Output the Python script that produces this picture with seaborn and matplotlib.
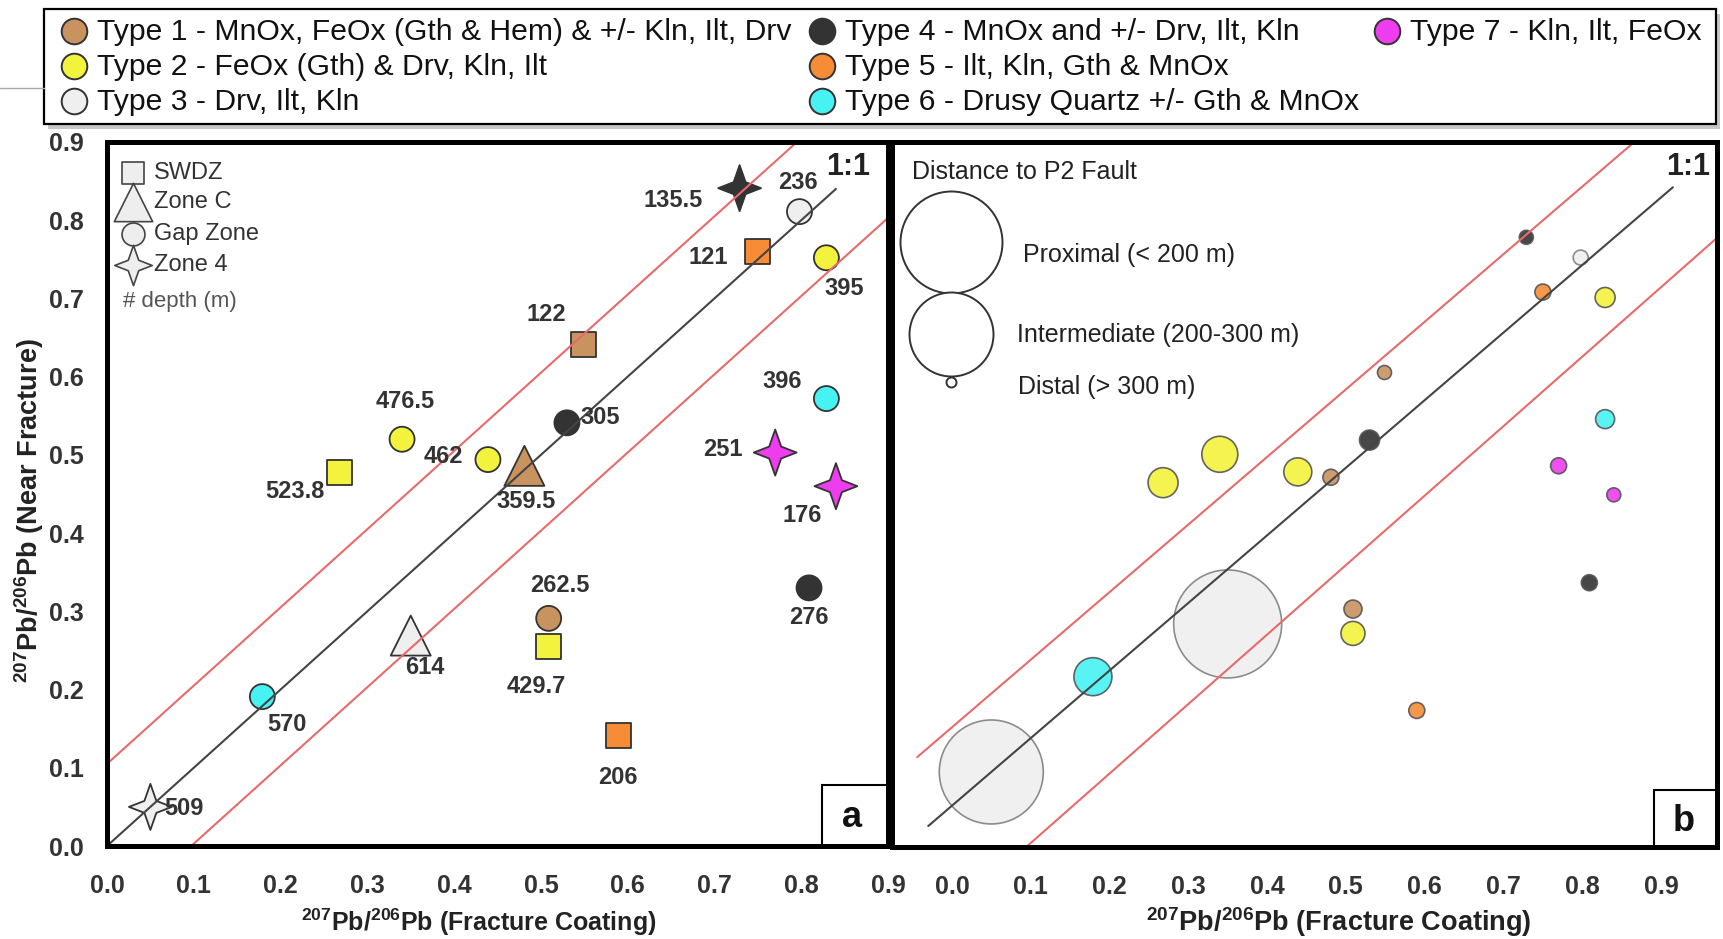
import numpy as np
import pandas as pd
import matplotlib
matplotlib.use("Agg")
import matplotlib.pyplot as plt
from matplotlib.path import Path
from matplotlib.patches import Rectangle
import seaborn as sns

# ---------------- data ----------------
depth_labels = ['135.5', '236', '121', '395', '122', '305', '396', '251', '176',
                '476.5', '523.8', '462', '359.5', '262.5', '429.7', '206', '276',
                '614', '570', '509']
pb_fracture = [0.729, 0.798, 0.750, 0.829, 0.549, 0.530, 0.829, 0.770, 0.840,
               0.340, 0.268, 0.439, 0.481, 0.509, 0.509, 0.590, 0.809,
               0.350, 0.179, 0.050]
pb_near = [0.841, 0.811, 0.760, 0.752, 0.641, 0.541, 0.572, 0.503, 0.460,
           0.520, 0.478, 0.494, 0.486, 0.291, 0.255, 0.141, 0.330,
           0.269, 0.191, 0.050]
coating_type = ['Type 4', 'Type 3', 'Type 5', 'Type 2', 'Type 1', 'Type 4', 'Type 6',
                'Type 7', 'Type 7', 'Type 2', 'Type 2', 'Type 2', 'Type 1', 'Type 1',
                'Type 2', 'Type 5', 'Type 4', 'Type 3', 'Type 6', 'Type 3']
zone = ['Zone 4', 'Gap Zone', 'SWDZ', 'Gap Zone', 'SWDZ', 'Gap Zone', 'Gap Zone',
        'Zone 4', 'Zone 4', 'Gap Zone', 'SWDZ', 'Gap Zone', 'Zone C', 'Gap Zone',
        'SWDZ', 'SWDZ', 'Gap Zone', 'Zone C', 'Gap Zone', 'Zone 4']
# bubble radius (px) in panel b, encodes distance to the P2 fault
bubble_radius = [7, 7.5, 8, 10, 7, 10, 9.5, 8, 7, 18, 15, 14, 8, 9, 12, 8, 8, 54, 19, 52]

type_names = ['Type 1', 'Type 2', 'Type 3', 'Type 4', 'Type 5', 'Type 6', 'Type 7']
type_descriptions = ['Type 1 - MnOx, FeOx (Gth & Hem) & +/- Kln, Ilt, Drv',
                     'Type 2 - FeOx (Gth) & Drv, Kln, Ilt',
                     'Type 3 - Drv, Ilt, Kln',
                     'Type 4 - MnOx and +/- Drv, Ilt, Kln',
                     'Type 5 - Ilt, Kln, Gth & MnOx',
                     'Type 6 - Drusy Quartz +/- Gth & MnOx',
                     'Type 7 - Kln, Ilt, FeOx']
type_colors = ['#c9935f', '#f3f23c', '#efefef', '#333333', '#f68c36', '#47f2f2', '#ee3def']

zone_names = ['SWDZ', 'Zone C', 'Gap Zone', 'Zone 4']
distance_labels = ['Proximal (< 200 m)', 'Intermediate (200-300 m)', 'Distal (> 300 m)']
distance_radius = [51, 42, 5]

tick_values = [0.0, 0.1, 0.2, 0.3, 0.4, 0.5, 0.6, 0.7, 0.8, 0.9]

# reference lines: 1:1 and envelopes (intercept, slope, x-start)
a_one_to_one_x = [0.0, 0.84]
a_env = [(0.105, 1.0, 0.0), (-0.097, 1.0, 0.097)]
b_one_to_one_x = [-0.03, 0.915]
b_env = [(0.116, 1.0, -0.044), (-0.158, 1.028, 0.09)]

# label offsets (points) for the depth annotations in panel a
label_offsets = [(-48, -9), (-1, 21), (-36, -4), (13, -22), (-27, 22), (24, 4),
                 (-32, 12), (-38, 2), (-24, -21), (2, 27), (-32, -14), (-32, 2),
                 (1, -26), (8, 24), (-9, -29), (-1, -30), (0, -21), (10, -23),
                 (18, -20), (24, -1)]

# ---------------- style ----------------
sns.set_style("white")
plt.rcParams["font.family"] = ["Liberation Sans", "DejaVu Sans"]
plt.rcParams["mathtext.fontset"] = "custom"
plt.rcParams["mathtext.rm"] = "Liberation Sans"
plt.rcParams["mathtext.bf"] = "Liberation Sans:bold"

W, H = 1723, 939
fig = plt.figure(figsize=(W / 100, H / 100), dpi=100)
fig.patch.set_facecolor("white")


def px_box(x0, y0, x1, y1):
    return [x0 / W, 1 - y1 / H, (x1 - x0) / W, (y1 - y0) / H]


axa = fig.add_axes(px_box(107, 142, 888, 846))
axb = fig.add_axes(px_box(892, 142, 1717, 847))

df = pd.DataFrame({"depth": depth_labels, "fc": pb_fracture, "nf": pb_near,
                   "type": coating_type, "zone": zone,
                   "area": (2 * np.array(bubble_radius) * 0.72) ** 2})
palette = dict(zip(type_names, type_colors))

star = Path([(0, 1), (0.26, 0.26), (0.93, 0), (0.26, -0.26), (0, -1),
             (-0.26, -0.26), (-0.93, 0), (-0.26, 0.26), (0, 1)], closed=True)
zone_markers = {"SWDZ": "s", "Zone C": "^", "Gap Zone": "o", "Zone 4": star}
zone_sizes = {"SWDZ": 324, "Zone C": 830, "Gap Zone": 324, "Zone 4": 1100}

# ---------------- panel a ----------------
sns.scatterplot(data=df, x="fc", y="nf", hue="type", palette=palette,
                style="zone", markers=zone_markers, size="zone", sizes=zone_sizes,
                edgecolor="#333333", linewidth=1.3, legend=False, ax=axa, zorder=3)

axa.plot(a_one_to_one_x, a_one_to_one_x, color="#444444", lw=1.5, zorder=4)
for c, m, x0 in a_env:
    xs = np.array([x0, 1.0])
    axa.plot(xs, m * xs + c, color="#e86a6a", lw=1.5, zorder=4)

for lab, x, y, off in zip(depth_labels, pb_fracture, pb_near, label_offsets):
    axa.annotate(lab, (x, y), xytext=off, textcoords="offset points",
                 ha="center", va="center", fontsize=17, fontweight="bold",
                 color="#333333", zorder=5)

# zone legend (panel a, top-left)
zl_y = [0.956, 0.915, 0.869, 0.825]
zl_s = [272, 762, 272, 841]
for name, yy, ss in zip(zone_names, zl_y, zl_s):
    axa.scatter([0.0333], [yy], s=ss, marker=zone_markers[name], transform=axa.transAxes,
                facecolor="#eeeeee", edgecolor="#444444", linewidth=1.2, zorder=6, clip_on=False)
    axa.text(0.060, yy, name, transform=axa.transAxes, ha="left", va="center",
             fontsize=17, color="#333333", zorder=6)
axa.text(0.0205, 0.773, "# depth (m)", transform=axa.transAxes, ha="left", va="center",
         fontsize=16, color="#555555", zorder=6)

axa.text(0.949, 0.9645, "1:1", transform=axa.transAxes, ha="center", va="center",
         fontsize=22, fontweight="bold", color="#222222", zorder=6)
axa.add_patch(Rectangle((0.9155, 0.0), 0.0845, 0.0866, transform=axa.transAxes,
                        facecolor="white", edgecolor="black", lw=1.5, zorder=6))
axa.text(0.954, 0.040, "a", transform=axa.transAxes, ha="center", va="center",
         fontsize=26, fontweight="bold", color="#111111", zorder=7)

axa.set_xlim(0, 0.9)
axa.set_ylim(0, 0.9)
axa.set_yticks(tick_values)
axa.set_yticklabels([f"{t:.1f}" for t in tick_values])
axa.set_ylabel(r"$^{\mathbf{207}}$Pb/$^{\mathbf{206}}$Pb (Near Fracture)",
               fontsize=19.5, fontweight="bold", color="#222222")
axa.yaxis.set_label_coords(-0.0999, 0.476)
axa.set_xlabel(r"$^{\mathbf{207}}$Pb/$^{\mathbf{206}}$Pb (Fracture Coating)",
               fontsize=18, fontweight="bold", color="#222222")
axa.xaxis.set_label_coords(0.476, -0.109)
axa.xaxis.label.set_va("center")
axa.yaxis.label.set_va("center")
axa.tick_params(axis="y", direction="out", length=14, width=1.6, color="#333333",
                pad=3, labelsize=18, labelcolor="#333333")

# ---------------- panel b ----------------
edge_b = ["#808080" if t == "Type 3" else "#555555" for t in coating_type]
amin, amax = df["area"].min(), df["area"].max()
sns.scatterplot(data=df, x="fc", y="nf", hue="type", palette=palette,
                size="area", sizes=(amin, amax), size_norm=(amin, amax),
                edgecolor=edge_b, linewidth=1.2, alpha=0.9, legend=False, ax=axb, zorder=3)

axb.plot(b_one_to_one_x, b_one_to_one_x, color="#444444", lw=1.5, zorder=4)
for c, m, x0 in b_env:
    xs = np.array([x0, 1.05])
    axb.plot(xs, m * xs + c, color="#e86a6a", lw=1.5, zorder=4)

axb.text(0.024, 0.957, "Distance to P2 Fault", transform=axb.transAxes, ha="left",
         va="center", fontsize=18, color="#222222", zorder=6)
dl_y = [0.858, 0.728, 0.660]
dl_tx = [0.159, 0.1515, 0.153]
dl_ty = [0.840, 0.726, 0.6525]
for lab, rr, yy, tx, ty in zip(distance_labels, distance_radius, dl_y, dl_tx, dl_ty):
    axb.scatter([0.0715], [yy], s=(2 * rr * 0.72) ** 2, transform=axb.transAxes,
                facecolor="white", edgecolor="#333333", linewidth=1.4, zorder=6)
    axb.text(tx, ty, lab, transform=axb.transAxes, ha="left", va="center",
             fontsize=18, color="#222222", zorder=6)

axb.text(0.965, 0.9645, "1:1", transform=axb.transAxes, ha="center", va="center",
         fontsize=22, fontweight="bold", color="#222222", zorder=6)
axb.add_patch(Rectangle((0.9236, 0.0), 0.0764, 0.081, transform=axb.transAxes,
                        facecolor="white", edgecolor="black", lw=1.5, zorder=6))
axb.text(0.959, 0.0355, "b", transform=axb.transAxes, ha="center", va="center",
         fontsize=26, fontweight="bold", color="#111111", zorder=7)

axb.set_xlim(-0.076, 0.971)
axb.set_ylim(-0.061, 0.982)
axb.set_yticks([])
axb.set_ylabel("")
axb.set_xlabel(r"$^{\mathbf{207}}$Pb/$^{\mathbf{206}}$Pb (Fracture Coating)",
               fontsize=19.5, fontweight="bold", color="#222222")
axb.xaxis.set_label_coords(0.541, -0.106)
axb.xaxis.label.set_va("center")

for ax in (axa, axb):
    ax.set_xticks(tick_values)
    ax.set_xticklabels([f"{t:.1f}" for t in tick_values])
    ax.tick_params(axis="x", direction="out", length=14, width=1.6, color="#333333",
                   pad=6, labelsize=18, labelcolor="#333333")
    for lbl in ax.get_xticklabels() + ax.get_yticklabels():
        lbl.set_fontweight("bold")
    for s in ax.spines.values():
        s.set_linewidth(3.6)
        s.set_color("black")
        s.set_zorder(8)
    ax.set_facecolor("white")

# ---------------- top legend (coating types) ----------------
ov = fig.add_axes([0, 0, 1, 1], zorder=10)
ov.set_xlim(0, W)
ov.set_ylim(H, 0)
ov.axis("off")
ov.patch.set_alpha(0)
ov.plot([0, 44], [88, 88], color="#aaaaaa", lw=1)
ov.add_patch(Rectangle((48, 14), 1672, 115, facecolor="#c8c8c8", edgecolor="none"))
ov.add_patch(Rectangle((44, 9), 1672, 115, facecolor="white", edgecolor="black", lw=1.6))
col_marker_x = [74, 822, 1387]
col_text_x = [97, 845, 1410]
row_y = [31, 66, 101]
for i, (desc, colr) in enumerate(zip(type_descriptions, type_colors)):
    c, r = i // 3, i % 3
    ov.scatter([col_marker_x[c]], [row_y[r]], s=340, marker="o", facecolor=colr,
               edgecolor="#333333", linewidth=1.4, zorder=11)
    ov.text(col_text_x[c], row_y[r] + 1, desc, ha="left", va="center",
            fontsize=21.7, color="#111111", zorder=11)

fig.savefig("out.png", dpi=100, facecolor="white")
